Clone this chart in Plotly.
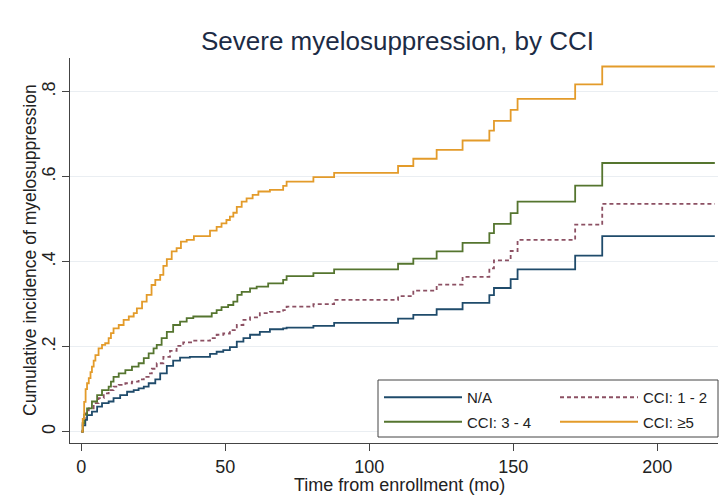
import plotly.graph_objects as go

# ---- data ----
series_names = ["N/A", "CCI: 1 - 2", "CCI: 3 - 4", "CCI: ≥5"]

t_na = [0, 0.5, 1.4, 2.0, 3.7, 5.5, 7.2, 9.5, 11.2, 13.5, 15.9, 18.2, 19.9, 21.7, 23.4, 25.7, 27.4,
        29.7, 31.9, 34.3, 37.7, 44.7, 47.0, 49.3, 51.6, 54.0, 56.3, 58.6, 62.0, 65.5, 70.1, 71.3,
        80.6, 87.8, 110, 115.3, 123.4, 132.4, 141.7, 143.3, 149.1, 151.5, 171.5, 180.9, 220]
v_na = [0, 0.015, 0.028, 0.039, 0.047, 0.059, 0.067, 0.071, 0.079, 0.086, 0.094, 0.098, 0.102, 0.106,
        0.114, 0.123, 0.137, 0.155, 0.167, 0.174, 0.176, 0.183, 0.188, 0.192, 0.199, 0.212, 0.220,
        0.228, 0.235, 0.241, 0.243, 0.245, 0.249, 0.256, 0.266, 0.275, 0.288, 0.303, 0.321, 0.338,
        0.359, 0.382, 0.414, 0.460, 0.460]

t_12 = [0, 0.5, 1.0, 1.6, 2.6, 4.3, 6.0, 7.8, 9.5, 11.2, 13.0, 15.3, 17.6, 19.9, 21.7, 23.4, 24.5,
        26.2, 28.5, 30.8, 33.1, 35.4, 38.9, 44.7, 47.0, 49.3, 51.6, 54.0, 56.3, 58.6, 62.0, 65.5,
        70.1, 71.3, 80.6, 87.8, 110, 115.3, 123.4, 132.4, 141.7, 143.3, 149.1, 151.5, 171.5, 180.9, 220]
v_12 = [0, 0.020, 0.032, 0.043, 0.055, 0.067, 0.079, 0.090, 0.098, 0.106, 0.110, 0.114, 0.118, 0.123,
        0.129, 0.137, 0.148, 0.161, 0.176, 0.190, 0.202, 0.210, 0.214, 0.220, 0.228, 0.231, 0.239,
        0.251, 0.263, 0.269, 0.279, 0.282, 0.286, 0.294, 0.300, 0.310, 0.319, 0.332, 0.346, 0.364,
        0.384, 0.403, 0.425, 0.451, 0.487, 0.536, 0.536]

t_34 = [0, 0.5, 1.0, 2.0, 3.7, 5.5, 7.2, 9.5, 10.3, 11.2, 13.0, 15.3, 17.6, 19.9, 21.7, 23.4, 25.1,
        26.2, 27.9, 29.7, 31.9, 34.3, 36.6, 38.9, 45.3, 47.0, 48.7, 51.0, 52.8, 54.2, 55.7, 58.6,
        60.9, 64.9, 70.1, 71.3, 80.6, 87.8, 110, 115.3, 123.4, 132.4, 141.7, 143.3, 149.1, 151.5,
        171.5, 180.9, 220]
v_34 = [0, 0.020, 0.040, 0.055, 0.071, 0.086, 0.098, 0.106, 0.118, 0.129, 0.137, 0.145, 0.153, 0.161,
        0.173, 0.184, 0.196, 0.204, 0.220, 0.235, 0.251, 0.259, 0.267, 0.271, 0.279, 0.286, 0.293,
        0.298, 0.306, 0.322, 0.329, 0.337, 0.341, 0.349, 0.357, 0.366, 0.373, 0.382, 0.395, 0.407,
        0.424, 0.444, 0.467, 0.489, 0.514, 0.541, 0.579, 0.632, 0.632]

t_5 = [0, 0.5, 1.0, 1.5, 2.0, 2.6, 3.2, 3.7, 4.3, 4.9, 6.0, 7.2, 8.3, 9.5, 10.3, 11.2, 13.0, 14.7,
       16.5, 18.2, 19.3, 21.1, 22.7, 24.4, 25.7, 27.4, 28.5, 29.7, 31.4, 33.1, 34.6, 36.6, 39.1,
       44.7, 47.0, 48.7, 50.4, 51.6, 52.8, 54.0, 55.7, 57.4, 59.5, 61.5, 65.5, 70.1, 71.3, 80.6,
       87.8, 110, 115.3, 123.4, 132.4, 141.7, 143.3, 149.1, 151.5, 171.5, 180.9, 220]
v_5 = [0, 0.030, 0.070, 0.100, 0.114, 0.126, 0.140, 0.153, 0.167, 0.180, 0.196, 0.204, 0.208, 0.220,
       0.232, 0.243, 0.251, 0.263, 0.271, 0.279, 0.290, 0.306, 0.322, 0.345, 0.357, 0.369, 0.390,
       0.406, 0.424, 0.432, 0.447, 0.451, 0.460, 0.473, 0.482, 0.490, 0.498, 0.506, 0.515, 0.529,
       0.541, 0.549, 0.557, 0.565, 0.569, 0.578, 0.588, 0.599, 0.609, 0.625, 0.642, 0.663, 0.685,
       0.708, 0.731, 0.757, 0.783, 0.817, 0.859, 0.859]

y_tickvals = [0, 0.2, 0.4, 0.6, 0.8]
y_ticktext = ["0", ".2", ".4", ".6", ".8"]
x_tickvals = [0, 50, 100, 150, 200]

# ---- styles / layout geometry ----
FONT = "Liberation Sans, Arial, sans-serif"
W, H = 720, 495
ML, MR, MT, MB = 70, 2, 58, 52
PW, PH = W - ML - MR, H - MT - MB


def px(p):   # pixel x -> paper x
    return (p - ML) / PW


def py(p):   # pixel y -> paper y
    return (H - MB - p) / PH


styles = [
    dict(color="#1f4b6b", dash="solid", legend="legend"),
    dict(color="#8c5063", dash="4px,3px", legend="legend2"),
    dict(color="#55752f", dash="solid", legend="legend"),
    dict(color="#e39b2a", dash="solid", legend="legend2"),
]

fig = go.Figure()
for i, (name, tx, vy, st) in enumerate(zip(series_names, [t_na, t_12, t_34, t_5],
                                            [v_na, v_12, v_34, v_5], styles)):
    fig.add_trace(go.Scatter(
        x=tx, y=vy, name=name, mode="lines", legend=st["legend"], legendgroup=f"g{i}",
        line=dict(shape="hv", width=1.8, color=st["color"], dash=st["dash"]),
    ))

leg_common = dict(
    orientation="v", xanchor="left", yanchor="top", xref="paper", yref="paper",
    bgcolor="rgba(0,0,0,0)", borderwidth=0,
    font=dict(size=15, color="#222222", family=FONT),
    itemwidth=78, traceorder="grouped", tracegroupgap=2,
)

fig.update_layout(
    width=W, height=H,
    margin=dict(l=ML, r=MR, t=MT, b=MB, autoexpand=False),
    paper_bgcolor="white", plot_bgcolor="white",
    font=dict(family=FONT, color="#222222", size=18),
    title=dict(text="Severe myelosuppression, by CCI", x=397.5 / W, xref="container",
               xanchor="center", y=1 - 41 / H, yref="container", yanchor="middle",
               font=dict(size=26, color="#1c2b45", family=FONT)),
    showlegend=True,
    legend=dict(x=px(379), y=py(381), **leg_common),
    legend2=dict(x=px(555), y=py(381), **leg_common),
    shapes=[dict(type="rect", xref="paper", yref="paper",
                 x0=px(378), x1=px(718), y0=py(437), y1=py(380),
                 line=dict(color="#444444", width=1), fillcolor="white", layer="above")],
    xaxis=dict(
        range=[-3.92, 221.1], tickvals=x_tickvals, ticks="outside", ticklen=7, tickcolor="#444444",
        showline=True, linecolor="#444444", linewidth=1, showgrid=False, zeroline=False,
        tickfont=dict(size=18), ticklabelstandoff=0,
    ),
    yaxis=dict(
        range=[-0.0266, 0.879], tickvals=y_tickvals, ticktext=y_ticktext, tickangle=-90,
        ticks="outside", ticklen=7, tickcolor="#444444",
        showline=True, linecolor="#444444", linewidth=1,
        showgrid=True, gridcolor="#eaeef2", gridwidth=1, zeroline=False,
        tickfont=dict(size=18), ticklabelstandoff=0,
    ),
    annotations=[
        dict(text="Time from enrollment (mo)", xref="paper", yref="paper",
             x=px(399.5), y=py(485), xanchor="center", yanchor="middle", showarrow=False,
             font=dict(size=18, color="#222222", family=FONT)),
        dict(text="Cumulative incidence of myelosuppression", xref="paper", yref="paper",
             x=px(30), y=py(250), xanchor="center", yanchor="middle", showarrow=False,
             textangle=-90, font=dict(size=17.5, color="#222222", family=FONT)),
    ],
)

fig.write_html("out.html")
